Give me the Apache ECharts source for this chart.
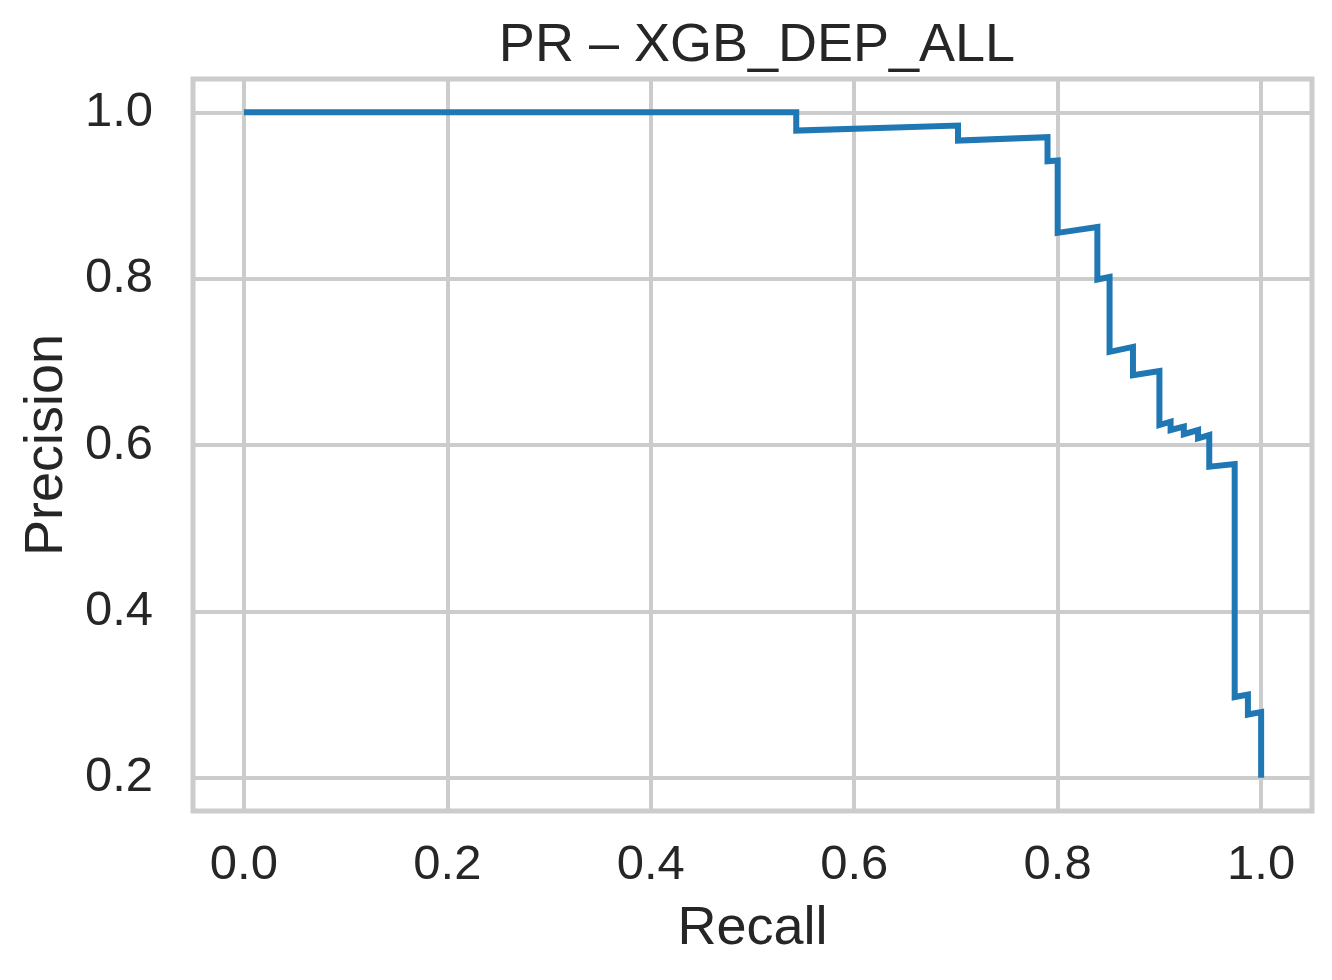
<!DOCTYPE html>
<html>
<head>
<meta charset="utf-8">
<script src="https://cdn.jsdelivr.net/npm/echarts@6/dist/echarts.min.js"></script>
<style>
html,body{margin:0;padding:0;background:#fff;}
#chart{width:1332px;height:980px;}
</style>
</head>
<body>
<div id="chart"></div>
<script>
const recall = [0, 0.543, 0.543, 0.702, 0.702, 0.790, 0.790, 0.800, 0.800, 0.839, 0.839, 0.851, 0.851, 0.874, 0.874, 0.900, 0.900, 0.911, 0.911, 0.924, 0.924, 0.938, 0.938, 0.949, 0.949, 0.974, 0.974, 0.987, 0.987, 1.0, 1.0];
const precision = [1.0, 1.0, 0.978, 0.984, 0.966, 0.970, 0.941, 0.942, 0.855, 0.862, 0.799, 0.802, 0.712, 0.718, 0.684, 0.689, 0.624, 0.628, 0.618, 0.622, 0.613, 0.618, 0.608, 0.612, 0.574, 0.577, 0.297, 0.300, 0.276, 0.279, 0.2];
const xTicks = [0, 0.2, 0.4, 0.6, 0.8, 1.0];
const yTicks = [0.2, 0.4, 0.6, 0.8, 1.0];
const titleText = 'PR – XGB_DEP_ALL';

const font = 'Liberation Sans, Arial, sans-serif';
const textColor = '#262626';
const gridColor = '#cccccc';

const chart = echarts.init(document.getElementById('chart'), null, {renderer: 'canvas'});
chart.setOption({
  backgroundColor: '#ffffff',
  animation: false,
  title: {
    text: titleText,
    left: 752,
    textAlign: 'center',
    top: 14,
    textStyle: {fontFamily: font, fontSize: 54, fontWeight: 'normal', color: textColor}
  },
  grid: {
    left: 193, top: 79, right: 20, bottom: 169,
    show: true, borderColor: gridColor, borderWidth: 5, backgroundColor: 'transparent'
  },
  xAxis: {
    type: 'value',
    min: -0.05, max: 1.05,
    name: 'Recall',
    nameLocation: 'middle',
    nameGap: 91,
    nameTextStyle: {fontFamily: font, fontSize: 54, color: textColor},
    axisLine: {show: false},
    axisTick: {show: false, customValues: xTicks},
    axisLabel: {
      customValues: xTicks, margin: 30,
      fontFamily: font, fontSize: 49, color: textColor,
      formatter: v => v.toFixed(1)
    },
    splitLine: {show: true, lineStyle: {color: gridColor, width: 4}}
  },
  yAxis: {
    type: 'value',
    min: 0.16, max: 1.04,
    name: 'Precision',
    nameLocation: 'middle',
    nameGap: 117,
    nameTextStyle: {fontFamily: font, fontSize: 54, color: textColor},
    axisLine: {show: false},
    axisTick: {show: false, customValues: yTicks},
    axisLabel: {
      customValues: yTicks, margin: 40,
      fontFamily: font, fontSize: 49, color: textColor,
      formatter: v => v.toFixed(1)
    },
    splitLine: {show: true, lineStyle: {color: gridColor, width: 4}}
  },
  series: [{
    type: 'line',
    data: recall.map((r, i) => [r, precision[i]]),
    showSymbol: false,
    lineStyle: {color: '#1f77b4', width: 6, join: 'miter'},
    itemStyle: {color: '#1f77b4'},
    clip: false
  }]
});
</script>
</body>
</html>
